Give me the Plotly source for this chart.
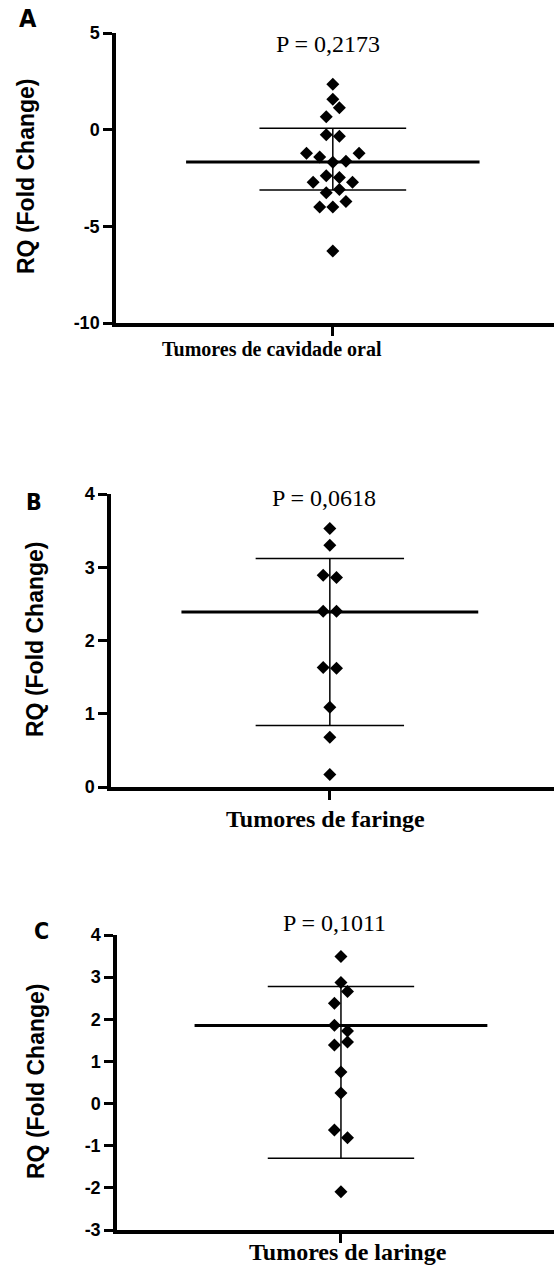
import plotly.graph_objects as go

# ---------------- data ----------------
# Panel A - Tumores de cavidade oral
a_values = [2.35, 1.57, 1.14, 0.67, -0.26, -0.34, -1.22, -1.22, -1.41, -1.69, -1.64,
            -2.38, -2.47, -2.72, -2.72, -3.26, -3.09, -3.72, -4.00, -4.00, -6.28]
a_slots = [0, 0, 1, -1, -1, 1, -4, 4, -2, 0, 2, -1, 1, -3, 3, -1, 1, 2, -2, 0, 0]
a_center, a_upper, a_lower = -1.67, 0.07, -3.12
a_ticks = [5, 0, -5, -10]
a_ticktext = ["5", "0", "-5", "-10"]

# Panel B - Tumores de faringe
b_values = [3.53, 3.30, 2.89, 2.86, 2.40, 2.40, 1.63, 1.62, 1.09, 0.68, 0.17]
b_slots = [0, 0, -1, 1, -1, 1, -1, 1, 0, 0, 0]
b_center, b_upper, b_lower = 2.39, 3.12, 0.84
b_ticks = [4, 3, 2, 1, 0]
b_ticktext = ["4", "3", "2", "1", "0"]

# Panel C - Tumores de laringe
c_values = [3.49, 2.87, 2.66, 2.38, 1.86, 1.72, 1.46, 1.39, 0.75, 0.25, -0.63, -0.81, -2.09]
c_slots = [0, 0, 1, -1, -1, 1, 1, -1, 0, 0, -1, 1, 0]
c_center, c_upper, c_lower = 1.85, 2.78, -1.30
c_ticks = [4, 3, 2, 1, 0, -1, -2, -3]
c_ticktext = ["4", "3", "2", "1", "0", "-1", "-2", "-3"]

labels = ["A", "B", "C"]
p_texts = ["P = 0,2173", "P = 0,0618", "P = 0,1011"]
x_titles = ["Tumores de cavidade oral", "Tumores de faringe", "Tumores de laringe"]
y_title = "RQ (Fold Change)"

# ---------------- layout helpers ----------------
W, H = 554, 1266
SLOT = 0.03
MEAN_HALF = 0.67
SD_HALF = 0.335
AXIS_LW = 3.5
MINOR_LEN = 5  # px protruding beyond the axis line


def py(px):
    return 1 - px / H


def minor_vals(lo, hi, step):
    k = int(round((hi - lo) / step))
    return [round(lo + j * step, 6) for j in range(k + 1)]


panels = [
    dict(values=a_values, slots=a_slots, c=a_center, u=a_upper, l=a_lower,
         ticks=a_ticks, ttext=a_ticktext, yr=[-10, 5], minor=0.5,
         xdom=[116 / W, 1.0], ydom=[py(323), py(33)], xr=[-0.99, 1.01],
         letter=(28, 19, 25), ptxt=(328, 44), xt=(272, 349, 20), yt=(26, 177)),
    dict(values=b_values, slots=b_slots, c=b_center, u=b_upper, l=b_lower,
         ticks=b_ticks, ttext=b_ticktext, yr=[0, 4], minor=0.1,
         xdom=[111 / W, 1.0], ydom=[py(787), py(494)], xr=[-0.988, 1.012],
         letter=(34, 502, 23), ptxt=(324, 498), xt=(325, 819, 24), yt=(35, 640)),
    dict(values=c_values, slots=c_slots, c=c_center, u=c_upper, l=c_lower,
         ticks=c_ticks, ttext=c_ticktext, yr=[-3, 4], minor=0.1,
         xdom=[117 / W, 1.0], ydom=[py(1230), py(935)], xr=[-1.025, 0.975],
         letter=(41, 931, 23), ptxt=(334, 923), xt=(348, 1252, 24), yt=(36, 1082)),
]

fig = go.Figure()
annotations = []
serif = "Liberation Serif, Times New Roman, serif"
sans = "Liberation Sans, Arial, sans-serif"
narrow = "Liberation Sans Narrow, DejaVu Sans Condensed, Roboto, sans-serif"
layout_axes = {}

for i, p in enumerate(panels):
    n = "" if i == 0 else str(i + 1)
    xa, ya = "x" + n, "y" + n
    # centre / spread lines
    fig.add_trace(go.Scatter(x=[-MEAN_HALF, MEAN_HALF], y=[p["c"], p["c"]], mode="lines",
                             line=dict(color="black", width=3), xaxis=xa, yaxis=ya,
                             showlegend=False, hoverinfo="skip"))
    for v in (p["u"], p["l"]):
        fig.add_trace(go.Scatter(x=[-SD_HALF, SD_HALF], y=[v, v], mode="lines",
                                 line=dict(color="black", width=1.5), xaxis=xa, yaxis=ya,
                                 showlegend=False, hoverinfo="skip"))
    fig.add_trace(go.Scatter(x=[0, 0], y=[p["l"], p["u"]], mode="lines",
                             line=dict(color="black", width=1.5), xaxis=xa, yaxis=ya,
                             showlegend=False, hoverinfo="skip"))
    # points
    fig.add_trace(go.Scatter(x=[s * SLOT for s in p["slots"]], y=p["values"], mode="markers",
                             marker=dict(symbol="diamond", size=10, color="black",
                                         line=dict(width=0)),
                             xaxis=xa, yaxis=ya, showlegend=False))

    # minor tick comb just outside the y-axis line (axis decoration)
    plot_w = (p["xdom"][1] - p["xdom"][0]) * W
    units_per_px = (p["xr"][1] - p["xr"][0]) / plot_w
    comb_x = p["xr"][0] - (AXIS_LW / 2 + MINOR_LEN / 2) * units_per_px
    mv = minor_vals(p["yr"][0], p["yr"][1], p["minor"])
    fig.add_trace(go.Scatter(x=[comb_x] * len(mv), y=mv, mode="markers",
                             marker=dict(symbol="line-ew", size=MINOR_LEN + 1,
                                         color="black", line=dict(width=2, color="black")),
                             cliponaxis=False, xaxis=xa, yaxis=ya,
                             showlegend=False, hoverinfo="skip"))

    layout_axes["xaxis" + n] = dict(
        domain=p["xdom"], range=p["xr"], anchor=ya, showgrid=False, zeroline=False,
        showline=True, linecolor="black", linewidth=AXIS_LW, ticks="outside",
        tickmode="array", tickvals=[0], ticklen=9, tickwidth=2.5, tickcolor="black",
        showticklabels=False, fixedrange=True)
    layout_axes["yaxis" + n] = dict(
        domain=p["ydom"], range=p["yr"], anchor=xa, showgrid=False, zeroline=False,
        showline=True, linecolor="black", linewidth=AXIS_LW, ticks="outside",
        tickmode="array", tickvals=p["ticks"],
        ticktext=["<b>%s</b>" % t for t in p["ttext"]], ticklen=9, tickwidth=2.5,
        tickcolor="black",
        tickfont=dict(family=sans, size=18, color="black", weight="bold"),
        fixedrange=True)

    lx, ly, ls = p["letter"]
    annotations.append(dict(text="<b>%s</b>" % labels[i], x=lx / W, y=py(ly), xref="paper",
                            yref="paper", showarrow=False, xanchor="center", yanchor="middle",
                            font=dict(family=narrow, size=ls, color="black")))
    px_, py_ = p["ptxt"]
    annotations.append(dict(text=p_texts[i], x=px_ / W, y=py(py_), xref="paper", yref="paper",
                            showarrow=False, xanchor="center", yanchor="middle",
                            font=dict(family=serif, size=24, color="black")))
    tx, ty, ts = p["xt"]
    annotations.append(dict(text="<b>%s</b>" % x_titles[i], x=tx / W, y=py(ty), xref="paper",
                            yref="paper", showarrow=False, xanchor="center", yanchor="middle",
                            font=dict(family=serif, size=ts, color="black")))
    yx, yy = p["yt"]
    annotations.append(dict(text="<b>%s</b>" % y_title, x=yx / W, y=py(yy), xref="paper",
                            yref="paper", showarrow=False, xanchor="center", yanchor="middle",
                            textangle=-90,
                            font=dict(family=sans, size=23, color="black")))

fig.update_layout(template="none", width=W, height=H, margin=dict(l=0, r=0, t=0, b=0),
                  paper_bgcolor="white", plot_bgcolor="white", annotations=annotations,
                  **layout_axes)

fig.write_html("out.html")
